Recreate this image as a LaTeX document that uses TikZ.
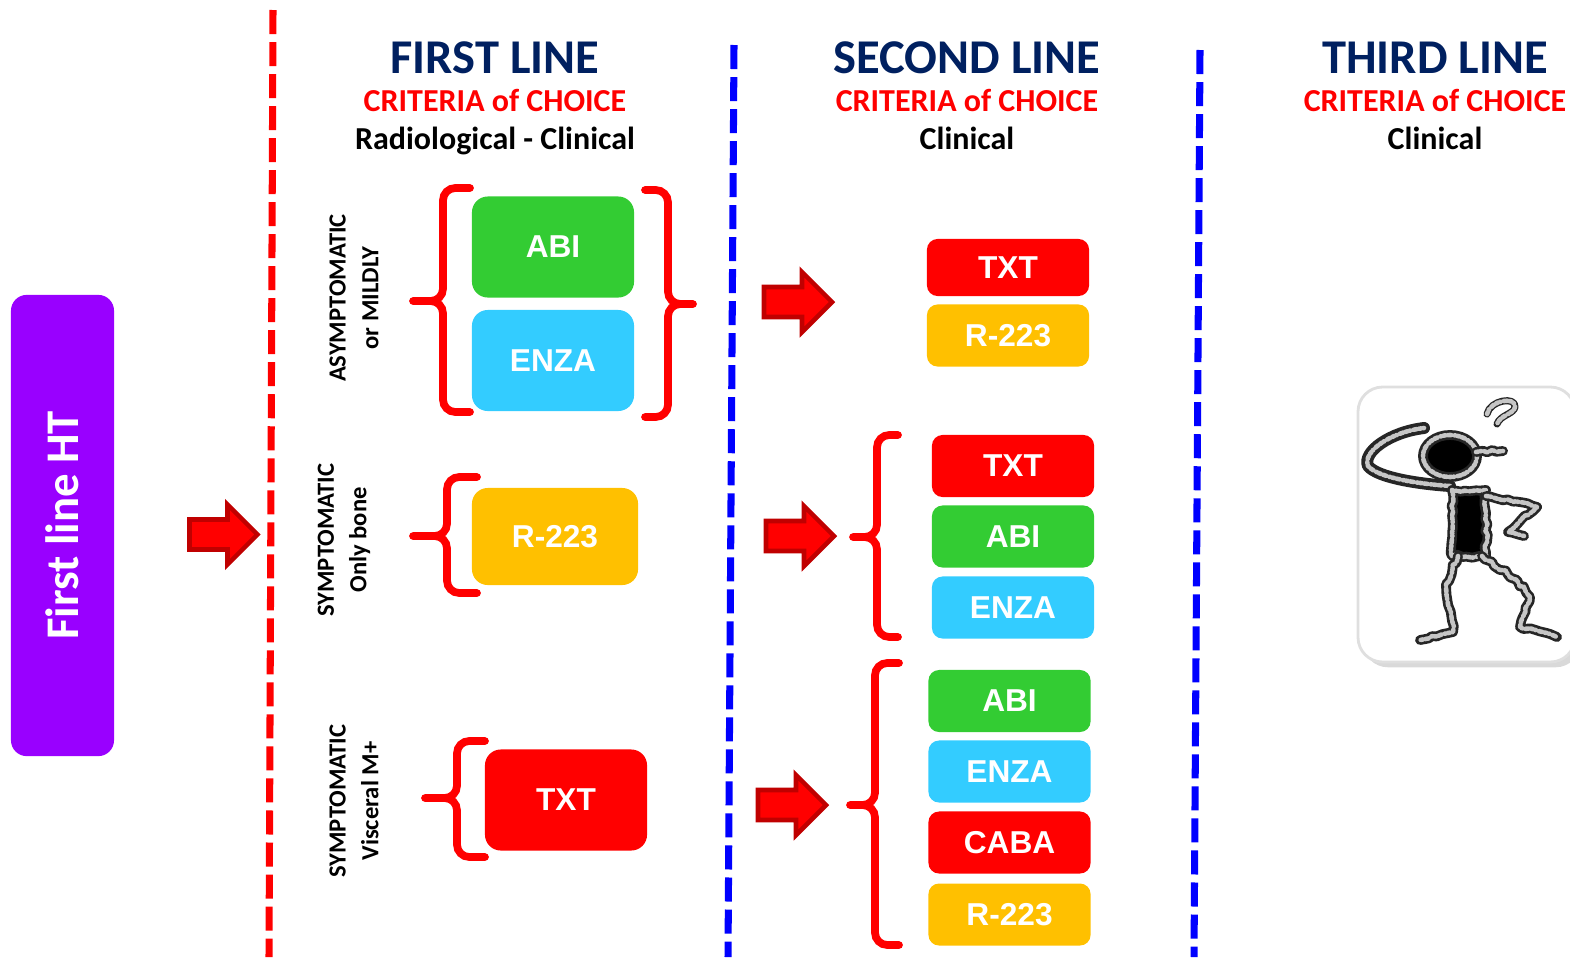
\documentclass[tikz,border=0pt]{standalone}
\usepackage{fontspec}
\setmainfont{Carlito}
\newfontfamily\drugfont{Liberation Sans}
\usetikzlibrary{shadows,decorations.pathmorphing}
\definecolor{title navy}{RGB}{0,32,96}
\definecolor{ht purple}{RGB}{153,0,255}
\definecolor{abi green}{RGB}{51,204,51}
\definecolor{enza cyan}{RGB}{51,204,255}
\definecolor{ra orange}{RGB}{255,192,0}
\definecolor{arrow edge}{RGB}{192,0,0}
\colorlet{brace red}{red}
\tikzset{drug/.style={rounded corners=3pt, minimum width=1.62cm, minimum height=0.62cm,
          inner sep=0pt, text=white, font=\drugfont\bfseries\fontsize{9}{10}\selectfont},
      bigdrug/.style={drug, rounded corners=4.5pt, minimum height=1.01cm},
      bracket/.style={draw=brace red, line width=2.2pt, line cap=round, rounded corners=3.5pt},
      bigarrow/.style={fill=red, draw=arrow edge, line width=1.3pt, line join=miter},
      divider/.style={line width=2pt, dash pattern=on 0.24cm off 0.08cm},
      sidelabel/.style={rotate=90, align=center, font=\bfseries\fontsize{7}{9.3}\selectfont},
      heading/.style={anchor=base, font=\bfseries\fontsize{9.1}{10}\selectfont},
      stroke/.style={draw=black!85, line width=2.8pt, line cap=round, line join=round,
          postaction={draw=gray!45, line width=1.3pt, dash pattern=on 0.7pt off 0.5pt on 0.3pt off 0.9pt on 1pt off 0.6pt}},
      sketch/.style={stroke, decorate, decoration={random steps, segment length=1.5pt, amplitude=0.5pt}}}
% tip, spine, arm ends (x); top, middle, bottom (y)
\newcommand\curlybrace[6]{%
  \draw[bracket] (#3,#4) -| (#2,#5) -- (#1,#5) (#1,#5) -- (#2,#5) |- (#3,#6);}
% block arrow pointing right, centred on #1
\newcommand\blockarrow[1]{%
  \draw[bigarrow, shift={(#1)}] (-34,-15) -- (4,-15) -- (4,-30) -- (34,0) -- (4,30) -- (4,15) -- (-34,15) -- cycle;}

\begin{document}
\begin{tikzpicture}[x=0.01cm, y=-0.01cm]
\useasboundingbox (0,0) rectangle (1570,957);

% column dividers
\draw[divider, red]  (273,10) -- (269,957);
\draw[divider, blue] (734,45) -- (728,957);
\draw[divider, blue] (1200,50) -- (1194,957);

% headings
\foreach \x/\t/\c/\n in {495/FIRST/Radiological - Clinical/1, 967/SECOND/Clinical/2, 1435/THIRD/Clinical/3}{
  \node[heading, text=title navy, font=\bfseries\fontsize{13.8}{15}\selectfont] (title\n) at (\x,73) {\t{} LINE};
  \node[heading, text=red] (crit\n) at (\x,111) {CRITERIA of CHOICE};
  \node[heading] (basis\n) at (\x,149) {\c};
}

\node[fill=ht purple, rounded corners=4.5pt, rotate=90, minimum width=4.61cm, minimum height=1.03cm,
      text=white, font=\bfseries\fontsize{13.3}{15}\selectfont] (ht) at (62.5,525.5) {First line HT};

% first line
\node[sidelabel] (symA) at (354,298) {ASYMPTOMATIC\\or MILDLY};
\node[sidelabel] (symB) at (344,540) {SYMPTOMATIC\\Only bone};
\node[sidelabel] (symC) at (354,801) {SYMPTOMATIC\\Visceral M+};

\node[bigdrug, fill=abi green] (abiA)  at (553,247) {ABI};
\node[bigdrug, fill=enza cyan] (enzaA) at (553,360.5) {ENZA};
\node[bigdrug, fill=ra orange, minimum width=1.66cm, minimum height=0.97cm] (radA) at (555,536.5) {R-223};
\node[bigdrug, fill=red] (txtA) at (566,800) {TXT};

\curlybrace{413}{443}{470}{188}{301}{412}
\curlybrace{693}{668}{645}{190}{304}{417}
\curlybrace{413}{447}{477}{477}{536}{593}
\curlybrace{425}{457}{485}{741}{798}{857}

% second line
\node[drug, fill=red, minimum height=0.57cm] (txtB) at (1008,267.5) {TXT};
\node[drug, fill=ra orange] (radB) at (1008,335.5) {R-223};

\node[drug, fill=red]       (txtC)  at (1013,466) {TXT};
\node[drug, fill=abi green] (abiC)  at (1013,536.5) {ABI};
\node[drug, fill=enza cyan] (enzaC) at (1013,607.5) {ENZA};

\node[drug, fill=abi green] (abiD)  at (1009.5,701) {ABI};
\node[drug, fill=enza cyan] (enzaD) at (1009.5,771.5) {ENZA};
\node[drug, fill=red]       (cabaD) at (1009.5,842.5) {CABA};
\node[drug, fill=ra orange] (radD)  at (1009.5,914.5) {R-223};

\curlybrace{853}{877}{898}{435}{537}{637}
\curlybrace{850}{875}{899}{663}{805}{945}

% block arrows
\blockarrow{223.5,534.5}
\blockarrow{798,302}
\blockarrow{800,536}
\blockarrow{792,805}

% third line: puzzled figure
\draw[gray!25, line width=0.8pt, fill=white, rounded corners=7pt,
      drop shadow={opacity=.3, shadow xshift=1.5pt, shadow yshift=-1.5pt}] (1358,387) rectangle (1575,662);
\draw[stroke, fill=black] (1450,456) ellipse [x radius=0.27cm, y radius=0.21cm];
\draw[sketch] (1476,452) -- (1503,451);
\draw[stroke, line width=2pt] (1487,414) .. controls (1490,400) and (1516,396) .. (1515,407)
      .. controls (1514,414) and (1500,415) .. (1497,424);
\draw[stroke, line width=3.4pt] (1450,486) .. controls (1420,484) and (1378,478) .. (1368,466)
      .. controls (1362,452) and (1390,432) .. (1424,428);
\draw[sketch, fill=black] (1452,490) rectangle (1486,556);
\draw[sketch] (1486,496) -- (1537,507) -- (1508,532) -- (1524,536);
\draw[sketch] (1458,556) -- (1446,584) -- (1453,632) -- (1420,640);
\draw[sketch] (1482,556) -- (1517,580) -- (1530,597) -- (1520,627) -- (1557,637);
\end{tikzpicture}
\end{document}
